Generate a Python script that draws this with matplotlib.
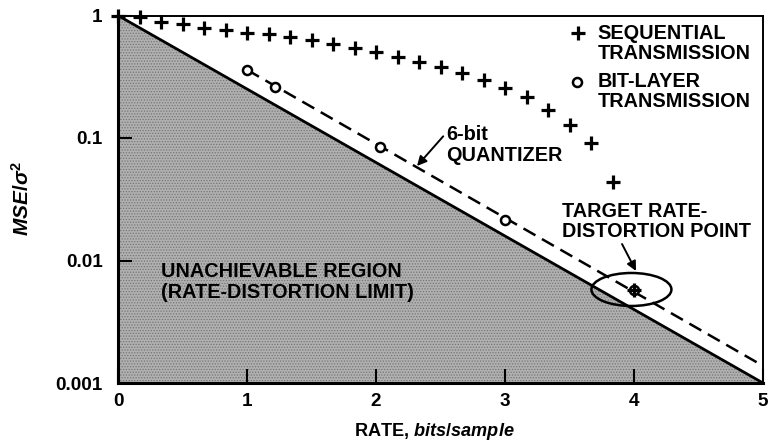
import matplotlib
matplotlib.use("Agg")
import matplotlib.pyplot as plt
from matplotlib.patches import Ellipse

plt.rcParams['font.family'] = ['Liberation Sans', 'DejaVu Sans']
plt.rcParams['font.weight'] = 'bold'
plt.rcParams['mathtext.fontset'] = 'custom'
plt.rcParams['mathtext.rm'] = 'Liberation Sans:bold'
plt.rcParams['mathtext.it'] = 'Liberation Sans:italic:bold'
plt.rcParams['mathtext.bf'] = 'Liberation Sans:bold'
plt.rcParams['hatch.linewidth'] = 0.6
plt.rcParams['hatch.color'] = '#757575'

# ---- data ----
seq_rate = [0, 1/6, 2/6, 3/6, 4/6, 5/6, 1, 7/6, 8/6, 9/6, 10/6, 11/6, 2,
            13/6, 14/6, 15/6, 16/6, 17/6, 3, 19/6, 20/6, 21/6, 22/6, 23/6, 4]
seq_mse = [1.0, 0.97, 0.89, 0.85, 0.79, 0.76, 0.72, 0.70, 0.67, 0.63, 0.585, 0.54, 0.505,
           0.46, 0.42, 0.38, 0.337, 0.297, 0.256, 0.216, 0.169, 0.128, 0.091, 0.044, 0.0057]

bit_rate = [1.0, 1.22, 2.03, 3.0, 4.0]
bit_mse = [0.36, 0.26, 0.085, 0.0214, 0.0057]

quant_rate = [1.0, 5.0]
quant_mse = [0.36, 0.00138]

rd_rate = [0.0, 5.0]
rd_mse = [1.0, 0.001]

target_rate = 3.98
target_mse = 0.0058

x_ticks = [0, 1, 2, 3, 4, 5]
y_ticks = [0.001, 0.01, 0.1, 1]
y_ticklabels = ['0.001', '0.01', '0.1', '1']

FS = 13.6     # tick labels
AFS = 14.3    # annotations / legend
LS = 1.1

# ---- figure ----
fig = plt.figure(figsize=(7.68, 4.42), dpi=100)
ax = fig.add_axes([118/768, 1-383/442, 645/768, 367.5/442])
ax.set_yscale('log')
ax.set_xlim(0, 5)
ax.set_ylim(0.001, 1.0)

ax.fill_between(rd_rate, rd_mse, [0.001, 0.001], facecolor='#b0b0b0',
                hatch='......', edgecolor='#757575', linewidth=0, zorder=1)
ax.plot(rd_rate, rd_mse, color='black', lw=2.0, zorder=3, solid_capstyle='butt')
ax.plot(quant_rate, quant_mse, color='black', lw=1.8, ls=(0, (5.5, 3)), zorder=3)
ax.plot(bit_rate, bit_mse, ls='none', marker='o', ms=6.5, mfc='white', mec='black',
        mew=1.8, zorder=4)
ax.plot(seq_rate, seq_mse, ls='none', marker='+', ms=10, mew=2.3, color='black',
        zorder=5, clip_on=False)

# target ellipse
fig.canvas.draw()
cx, cy = ax.transAxes.inverted().transform(ax.transData.transform((target_rate, target_mse)))
ax.add_patch(Ellipse((cx, cy), 80/645, 33/367.5, transform=ax.transAxes,
                     fill=False, edgecolor='black', lw=1.8, zorder=6))

# legend
ax.plot([0.713], [0.952], marker='+', ms=10, mew=2.3, color='black', transform=ax.transAxes,
        clip_on=False)
ax.text(0.744, (383-43.5)/367.5, 'SEQUENTIAL\nTRANSMISSION', transform=ax.transAxes,
        fontsize=AFS, va='center', ha='left', linespacing=LS)
ax.plot([0.712], [0.819], marker='o', ms=6.5, mfc='white', mec='black', mew=1.8,
        transform=ax.transAxes, clip_on=False)
ax.text(0.744, (383-91.5)/367.5, 'BIT-LAYER\nTRANSMISSION', transform=ax.transAxes,
        fontsize=AFS, va='center', ha='left', linespacing=LS)

# annotations
ax.annotate('6-bit\nQUANTIZER', xy=((417-118)/645, (383-166)/367.5),
            xytext=((446-118)/645, (383-145)/367.5), textcoords='axes fraction',
            xycoords='axes fraction', fontsize=AFS, ha='left', va='center', linespacing=LS,
            arrowprops=dict(arrowstyle='-|>', color='black', lw=1.4, mutation_scale=14,
                            shrinkA=0, shrinkB=0, relpos=(0, 0.8)))
ax.annotate('TARGET RATE-\nDISTORTION POINT', xy=((636-118)/645, (383-271)/367.5),
            xytext=((562-118)/645, (383-221.5)/367.5), textcoords='axes fraction',
            xycoords='axes fraction', fontsize=AFS, ha='left', va='center', linespacing=LS,
            arrowprops=dict(arrowstyle='-|>', color='black', lw=1.4, mutation_scale=14,
                            shrinkA=0, shrinkB=0, relpos=(0.31, 0.0)))
ax.text((161-118)/645, (383-282)/367.5, 'UNACHIEVABLE REGION\n(RATE-DISTORTION LIMIT)',
        transform=ax.transAxes, fontsize=AFS, ha='left', va='center', linespacing=LS,
        zorder=7)

# axes styling
ax.set_xticks(x_ticks)
ax.set_xticklabels([str(t) for t in x_ticks])
ax.set_yticks(y_ticks)
ax.set_yticklabels(y_ticklabels)
ax.minorticks_off()
ax.tick_params(direction='in', length=10, width=1.5, labelsize=FS)
ax.tick_params(axis='y', pad=11)
ax.tick_params(axis='x', pad=7)
for s in ['bottom', 'left']:
    ax.spines[s].set_linewidth(2.2)
for s in ['top', 'right']:
    ax.spines[s].set_linewidth(1.4)
ax.spines['left'].set_zorder(8)

fig.text(434/768, 1-436/442, r'RATE, $\mathit{bits/sample}$', fontsize=13.1,
         ha='center', va='baseline')
fig.text(22/768, 1-198/442, r'$\mathit{MSE/\sigma^2}$', fontsize=15,
         ha='center', va='center', rotation=90)

fig.savefig('out.png', dpi=100)
